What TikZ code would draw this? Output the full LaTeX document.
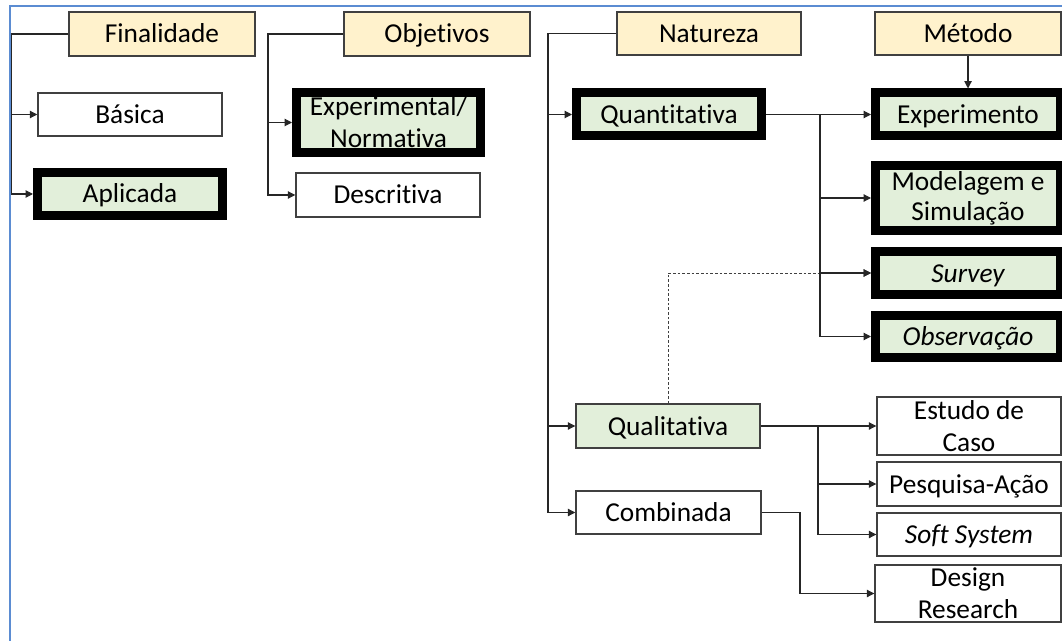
\documentclass[tikz,border=0pt]{standalone}
\usepackage{fontspec}
\setmainfont{Carlito}[Ligatures={NoCommon}]
\usetikzlibrary{arrows.meta}
\definecolor{yel}{HTML}{FFF2CC}
\definecolor{grn}{HTML}{E2EFDA}
\definecolor{frameblue}{RGB}{91,140,210}
\definecolor{bord}{HTML}{404040}
\begin{document}
\begin{tikzpicture}[x=0.75pt,y=-0.75pt,
  box/.style={draw=bord, line width=1.1pt, inner sep=0pt, align=center,
    font=\fontsize{20.5}{24}\selectfont},
  one/.style={text height=16pt, text depth=2.5pt},
  sz/.style 2 args={minimum width=#1*0.75pt, minimum height=#2*0.75pt},
  head/.style={box, fill=yel, one},
  plain/.style={box, fill=white},
  gbox/.style={box, fill=grn},
  heavy/.style={box, draw=black, fill=grn, line width=6.75pt},
  conn/.style={draw=black!85, line width=0.8pt},
  arr/.style={conn, -{Triangle[length=5.5pt,width=5.5pt]}},
  dashconn/.style={draw=black!75, line width=0.7pt, dash pattern=on 2pt off 1.5pt, -{Triangle[length=5.5pt,width=5.5pt]}}
]
\useasboundingbox (0,0) rectangle (1062,641);

% header boxes
\node[head, sz={186}{44}] (fin) at (162,34) {Finalidade};
\node[head, sz={186}{44}] (obj) at (437,34) {Objetivos};
\node[head, sz={184}{43}] (nat) at (709,33.5) {Natureza};
\node[head, sz={186}{43}] (met) at (968,33.5) {Método};

% Finalidade
\node[plain, one, sz={184}{43}] (bas) at (130,114.5) {Básica};
\node[heavy, one, sz={185}{43}] (apl) at (130,194) {Aplicada};

% Objetivos
\node[heavy, sz={184}{60}, text height=38pt, text depth=0pt] (expn) at (388.5,122.5) {Experimental/\\Normativa};
\node[plain, one, sz={184}{44}] (desc) at (388,195) {Descritiva};

% Natureza
\node[heavy, one, sz={185}{43}] (quant) at (669,114.5) {Quantitativa};
\node[gbox, one, sz={184}{44}] (qual) at (668,426) {Qualitativa};
\node[plain, one, sz={185}{43}] (comb) at (668.5,512.5) {Combinada};

% Metodo
\node[heavy, one, sz={185}{43}] (exp) at (968,114.5) {Experimento};
\node[heavy, sz={185}{65}, font=\fontsize{20.5}{22.5}\selectfont] (mod) at (968,198) {Modelagem e\\Simulação};
\node[heavy, one, sz={185}{43}] (surv) at (968,273) {\itshape Survey};
\node[heavy, one, sz={185}{42}] (obs) at (968,336.5) {\itshape Observação};
\node[plain, sz={184}{58}] (est) at (969,426) {Estudo de\\Caso};
\node[plain, one, sz={184}{44}] (pesq) at (969,484) {Pesquisa-Ação};
\node[plain, one, sz={184}{43}] (soft) at (969,534.5) {\itshape Soft System};
\node[plain, sz={186}{57}] (des) at (968,593.5) {Design\\Research};

% bus coordinates
\coordinate (busA) at (11,0);
\coordinate (busO) at (268,0);
\coordinate (busN) at (548,0);
\coordinate (busQ) at (820,0);
\coordinate (busL) at (818,0);
\coordinate (busC) at (800,0);

% connectors
\draw[arr] (fin.west) -| (busA |- apl.west) -- (apl.west);
\draw[arr] (busA |- bas.west) -- (bas.west);

\draw[arr] (obj.west) -| (busO |- desc.west) -- (desc.west);
\draw[arr] (busO |- expn.west) -- (expn.west);

\draw[arr] (nat.west) -| (busN |- comb.west) -- (comb.west);
\draw[arr] (busN |- quant.west) -- (quant.west);
\draw[arr] (busN |- qual.west) -- (qual.west);

\draw[arr] (met.south) -- (exp.north);

\draw[dashconn] (qual.north) |- (surv.west);

\draw[arr] (quant.east) -- (exp.west);
\draw[arr] (busQ |- quant.east) |- (obs.west);
\draw[arr] (busQ |- mod.west) -- (mod.west);
\draw[arr] (busQ |- surv.west) -- (surv.west);

\draw[arr] (qual.east) -- (est.west);
\draw[arr] (busL |- qual.east) |- (soft.west);
\draw[arr] (busL |- pesq.west) -- (pesq.west);

\draw[arr] (comb.east) -| (busC |- des.west) -- (des.west);

% frame
\draw[frameblue, line width=1.8pt] (9.7,641) -- (9.7,6.3) -- (1062,6.3);
\end{tikzpicture}
\end{document}
